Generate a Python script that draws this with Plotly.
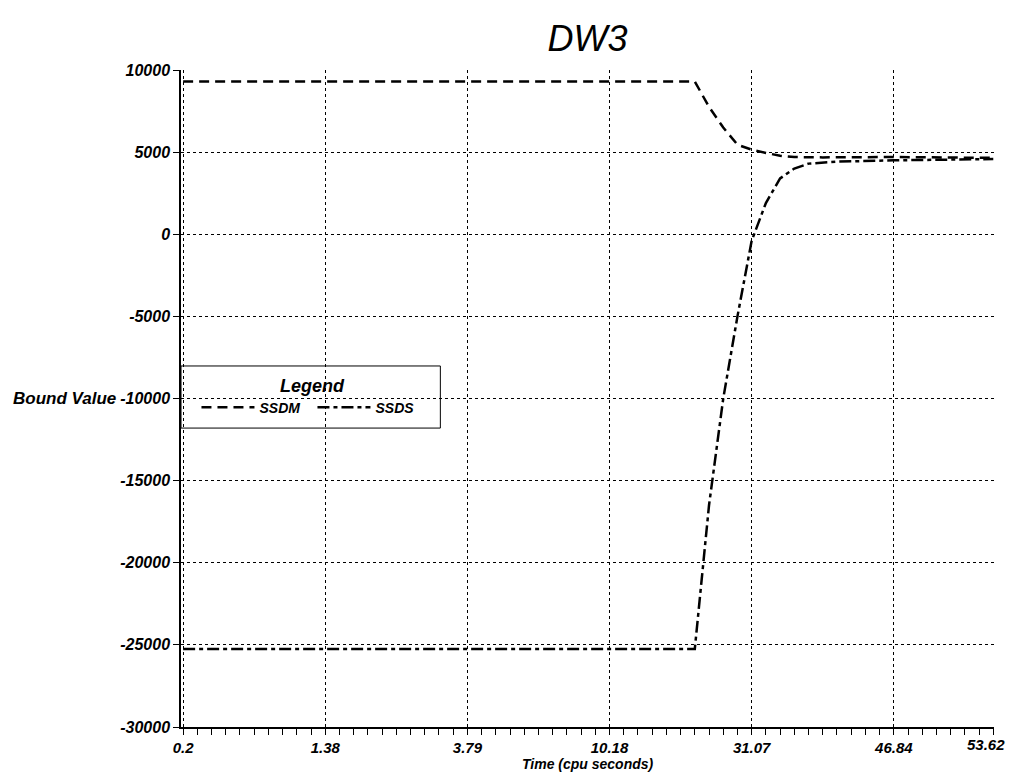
import plotly.graph_objects as go

# Sample index positions (x axis is evenly spaced by sample, labelled with cpu time)
tick_index = [0, 10, 20, 30, 40, 50, 57]
tick_labels = ["0.2", "1.38", "3.79", "10.18", "31.07", "46.84", "53.62"]

y_ticks = [10000, 5000, 0, -5000, -10000, -15000, -20000, -25000, -30000]
y_tick_labels = ["10000", "5000", "0", "-5000", "-10000", "-15000", "-20000", "-25000", "-30000"]

ssdm_x = [0, 36, 37, 38, 39, 40, 41, 42, 43, 45, 50, 57]
ssdm_y = [9300, 9300, 7750, 6500, 5450, 5150, 4950, 4780, 4700, 4680, 4700, 4650]

ssds_x = [0, 36, 37, 38, 39, 40, 41, 42, 43, 44, 46, 50, 57]
ssds_y = [-25250, -25250, -16500, -10000, -5000, -400, 1900, 3400, 4000, 4300, 4420, 4500, 4580]

FONT = "Liberation Sans"
BI = dict(family=FONT, color="black", style="italic", weight="bold")

fig = go.Figure()
fig.add_trace(go.Scatter(x=ssdm_x, y=ssdm_y, mode="lines", name="SSDM",
                         line=dict(color="black", width=2.5, dash="10px,6px")))
fig.add_trace(go.Scatter(x=ssds_x, y=ssds_y, mode="lines", name="SSDS",
                         line=dict(color="black", width=2.5, dash="12px,4px,4px,4px")))

# last tick label sits at the right edge; draw it as an annotation nudged inward so it stays visible
axis_text = tick_labels[:-1] + [""]

fig.update_layout(
    width=1000, height=764,
    margin=dict(l=173, r=14, t=62, b=45, autoexpand=False),
    paper_bgcolor="white", plot_bgcolor="white",
    title=dict(text="DW3", xref="paper", x=0.5, xanchor="center", y=0.96, yanchor="middle",
               font=dict(family=FONT, size=36, color="black", style="italic")),
    showlegend=True,
    legend=dict(
        x=0.1617, y=0.546, xanchor="center", yanchor="top",
        orientation="h",
        bgcolor="rgba(0,0,0,0)", borderwidth=0,
        title=dict(text="Legend", side="top center", font=dict(size=18, **BI)),
        font=dict(size=14, **BI),
        itemwidth=53, entrywidth=48, entrywidthmode="pixels",
    ),
    shapes=[
        dict(type="rect", xref="paper", yref="paper", x0=0, x1=0.319, y0=0.455, y1=0.5495,
             line=dict(color="black", width=1), fillcolor="white", layer="between"),
    ],
    xaxis=dict(
        range=[-0.15, 57.05],
        tickmode="array", tickvals=tick_index, ticktext=axis_text,
        showgrid=True, gridcolor="black", griddash="dot", gridwidth=1,
        showline=True, linecolor="black", linewidth=1.5,
        ticks="outside", ticklen=6, tickcolor="black",
        minor=dict(dtick=1, tick0=0, ticks="outside", ticklen=6, tickcolor="black", showgrid=False),
        tickfont=dict(size=15, **BI),
        automargin=False,
        zeroline=False,
    ),
    yaxis=dict(
        range=[-30000, 10000],
        tickmode="array", tickvals=y_ticks, ticktext=y_tick_labels,
        showgrid=True, gridcolor="black", griddash="dot", gridwidth=1,
        showline=True, linecolor="black", linewidth=1.5,
        ticks="outside", ticklen=6, tickcolor="black",
        tickfont=dict(size=16, **BI),
        automargin=False,
        zeroline=False,
    ),
    annotations=[
        dict(text=tick_labels[-1], xref="x", yref="paper", x=tick_index[-1], y=0,
             xanchor="right", yanchor="top", yshift=-7, xshift=14, showarrow=False,
             font=dict(size=15, **BI)),
        dict(text="Bound Value", xref="paper", yref="y", x=-0.077, y=-10000,
             xanchor="right", yanchor="middle", showarrow=False,
             font=dict(size=17, **BI)),
        dict(text="Time (cpu seconds)", xref="paper", yref="paper", x=0.5, y=-0.056,
             xanchor="center", yanchor="middle", showarrow=False,
             font=dict(size=14, **BI)),
    ],
)

fig.write_html("out.html")
